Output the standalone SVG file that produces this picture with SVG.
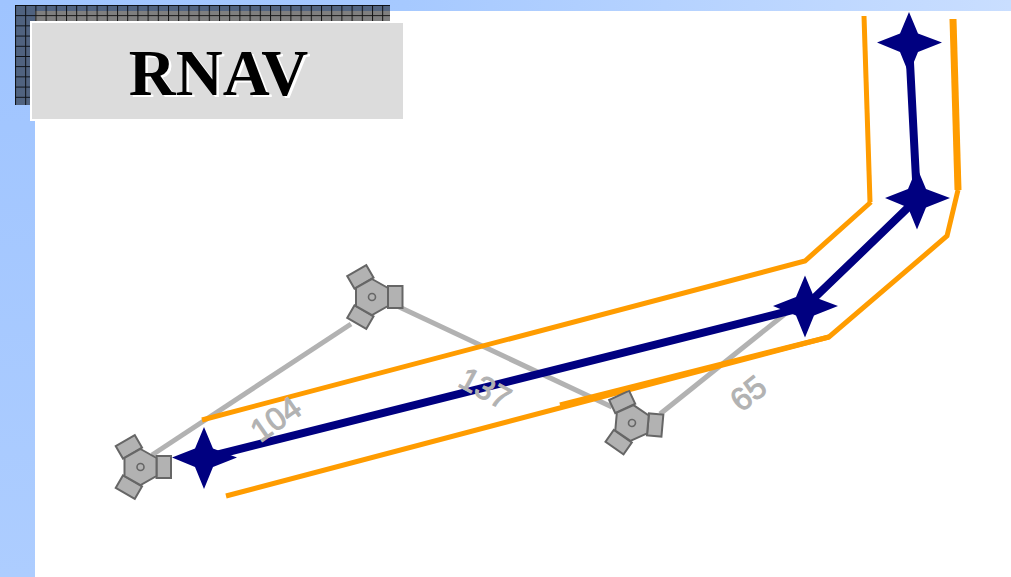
<svg xmlns="http://www.w3.org/2000/svg" width="1011" height="577" viewBox="0 0 1011 577">
<style>
.pale{stroke:#b2b2b2;stroke-width:5;fill:none}
.orange{stroke:#ff9c00;fill:none;stroke-linejoin:miter}
.route{stroke:#000080;stroke-width:8;fill:none}
.star{fill:#000080}
.num{font-family:"Liberation Sans",Arial,sans-serif;font-size:32px;font-weight:400;fill:#b2b2b2;stroke:#b2b2b2;stroke-width:1;text-anchor:middle}
.body{fill:#b2b2b2;stroke:#666;stroke-width:2}
.hub{fill:none;stroke:#666;stroke-width:1.6}
.title{font-family:"Liberation Serif","Times New Roman",serif;font-size:65px;font-weight:700;text-anchor:middle}
</style>
<defs>
<linearGradient id="topBand" x1="0" y1="0" x2="1" y2="0">
<stop offset="0" stop-color="#9fc4ff"/><stop offset="0.4" stop-color="#a6c9ff"/><stop offset="1" stop-color="#c9deff"/>
</linearGradient>
<linearGradient id="leftBand" x1="0" y1="0" x2="0" y2="1">
<stop offset="0" stop-color="#9fc4ff"/><stop offset="1" stop-color="#adcdff"/>
</linearGradient>
<pattern id="mesh" x="15" y="5" width="10.2" height="10.2" patternUnits="userSpaceOnUse">
<rect width="10.2" height="10.2" fill="#000" fill-opacity="0.5"/>
<path d="M0.5 0V10.2M0 0.5H10.2" stroke="#000" stroke-width="1" fill="none" stroke-opacity="0.85"/>
</pattern>
<g id="sensor">
<rect class="body" x="16" y="-11" width="14.5" height="22"/>
<rect class="body" x="16" y="-11" width="14.5" height="22" transform="rotate(120)"/>
<rect class="body" x="16" y="-11" width="14.5" height="22" transform="rotate(240)"/>
<polygon class="body" points="0,-18 16,-9 16,9 0,18 -16,9 -16,-9"/>
<circle class="hub" r="3.5"/>
</g>
<path id="starShape" d="M0-31 L9-9.500 L33-0.500 L9 9 L0 31 L-9 9 L-32-0.500 L-9-9.500Z"/>
</defs>
<rect id="background" width="1011" height="577" fill="#fff"/>
<rect x="0" y="0" width="1011" height="11" fill="url(#topBand)"/>
<rect x="0" y="0" width="35" height="577" fill="url(#leftBand)"/>
<rect id="mesh-block" x="15" y="5" width="375" height="100" fill="url(#mesh)"/>
<g id="title">
<rect x="31" y="22" width="373" height="98" fill="#dcdcdc" stroke="#fff" stroke-width="2"/>
<text class="title" x="221" y="97" fill="#fff">RNAV</text>
<text class="title" x="218.500" y="95" fill="#000">RNAV</text>
</g>
<g id="connectors">
<path class="pale" d="M152 455L351 324"/>
<path class="pale" d="M395 305L612 407"/>
<path class="pale" d="M660 414L790 310"/>
<path class="route" d="M204 458L805 307L917 199L909 43"/>
<path class="orange" stroke-width="5" d="M202 420L805 261L871 202"/>
<path class="orange" stroke-width="5" d="M864 16L870 202"/>
<path class="orange" stroke-width="5" d="M226 496L829 337L947 236L958 190"/>
<path class="orange" stroke-width="7" d="M953 19L958 190"/>
</g>
<g id="sensor-a"><use href="#sensor" transform="translate(140.500 467)"/></g>
<g id="sensor-b"><use href="#sensor" transform="translate(372 297)"/></g>
<g id="sensor-c"><use href="#sensor" transform="translate(632 423) rotate(5)"/></g>
<path class="orange" stroke-width="5" d="M560 405L829 337"/>
<g id="fix-a"><use class="star" href="#starShape" transform="translate(204 458)"/></g>
<g id="fix-b"><use class="star" href="#starShape" transform="translate(805 306.500)"/></g>
<g id="fix-c"><use class="star" href="#starShape" transform="translate(917 198.500)"/></g>
<g id="fix-d"><use class="star" href="#starShape" transform="translate(909 43)"/></g>
<g id="labels">
<text class="num" transform="translate(282 428) rotate(-35)">104</text>
<text class="num" transform="translate(480 398) rotate(28)">137</text>
<text class="num" transform="translate(755 402) rotate(-38)">65</text>
</g>
</svg>
